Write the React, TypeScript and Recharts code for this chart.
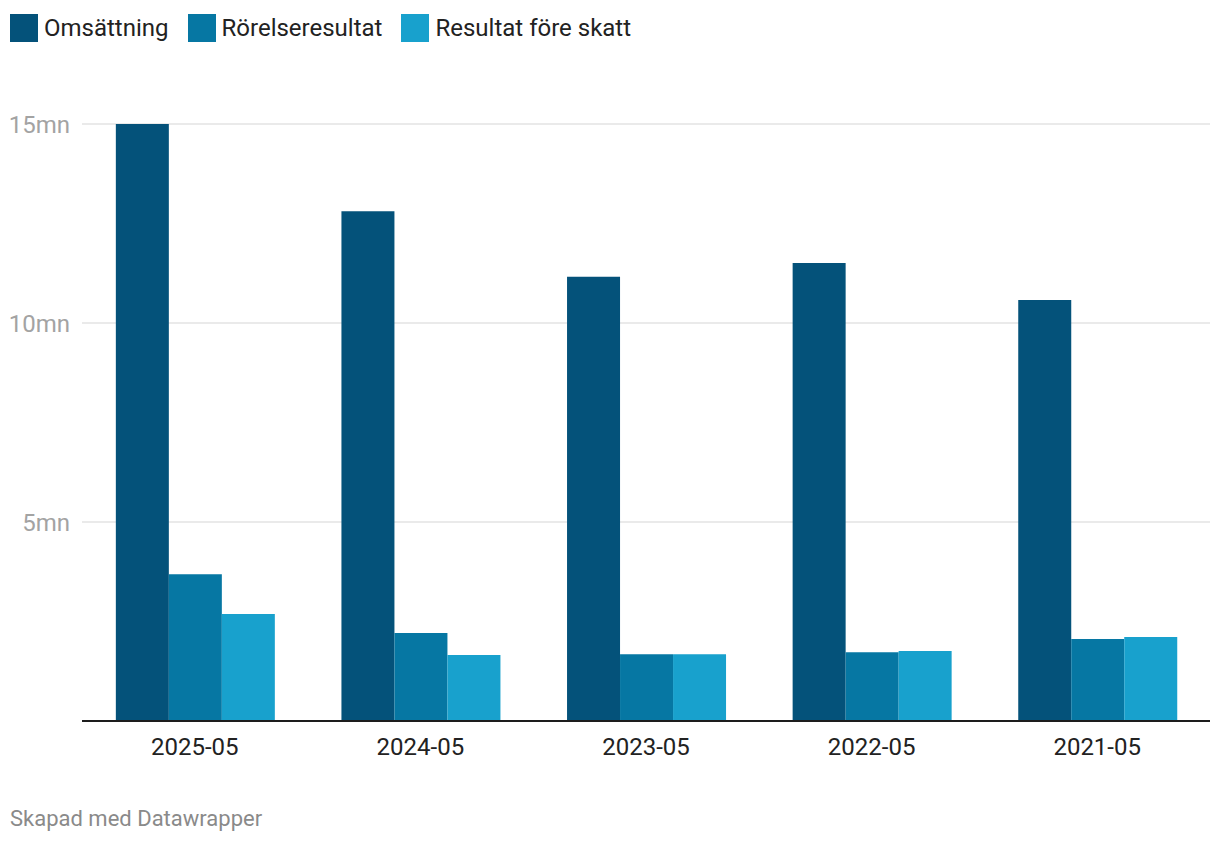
import { BarChart, Bar, XAxis, YAxis, CartesianGrid } from 'recharts';

const years = ['2025-05', '2024-05', '2023-05', '2022-05', '2021-05'];
const omsattning = [15.0, 12.81, 11.16, 11.51, 10.58];
const rorelseresultat = [3.69, 2.21, 1.68, 1.73, 2.06];
const resultatForeSkatt = [2.69, 1.66, 1.68, 1.76, 2.11];
const yTicks = [0, 5, 10, 15];

const series = [
  { key: 'oms', name: 'Omsättning', color: '#04527a' },
  { key: 'rr', name: 'Rörelseresultat', color: '#0677a3' },
  { key: 'rfs', name: 'Resultat före skatt', color: '#18a1cd' },
];

const data = years.map((y, i) => ({
  year: y,
  oms: omsattning[i],
  rr: rorelseresultat[i],
  rfs: resultatForeSkatt[i],
}));

const font = 'Roboto, "Noto Sans", sans-serif';

export default function App() {
  return (
    <div style={{ position: 'absolute', left: 0, top: 0, width: 1220, height: 844, fontFamily: font, background: '#fff' }}>
      <div style={{ position: 'absolute', left: 10, top: 14, display: 'flex', alignItems: 'center' }}>
        {series.map((s) => (
          <div key={s.key} style={{ display: 'flex', alignItems: 'center', marginRight: 19 }}>
            <span style={{ width: 28, height: 28, background: s.color, display: 'inline-block', marginRight: 6 }} />
            <span style={{ fontSize: 24, color: '#222' }}>{s.name}</span>
          </div>
        ))}
      </div>
      <div style={{ position: 'absolute', left: 0, top: 0 }}>
        <BarChart
          width={1220}
          height={844}
          data={data}
          margin={{ top: 124, right: 10, left: 0, bottom: 83 }}
          barCategoryGap="15%"
          barGap={0}
        >
          <CartesianGrid vertical={false} stroke="#e3e3e3" strokeWidth={1.5} />
          <XAxis
            dataKey="year"
            height={40}
            tickLine={false}
            axisLine={{ stroke: '#1d1d1d', strokeWidth: 2 }}
            tick={{ fill: '#222', fontSize: 24, fontFamily: font }}
            tickMargin={11}
          />
          <YAxis
            width={82}
            domain={[0, 15]}
            ticks={yTicks}
            tickLine={false}
            axisLine={false}
            tickMargin={6}
            tickFormatter={(v: number) => (v === 0 ? '' : `${v}mn`)}
            tick={{ fill: '#a3a3a3', fontSize: 24, fontFamily: font }}
          />
          {series.map((s) => (
            <Bar key={s.key} dataKey={s.key} name={s.name} fill={s.color} isAnimationActive={false} />
          ))}
        </BarChart>
      </div>
      <div style={{ position: 'absolute', left: 10, top: 806, fontSize: 22, color: '#8a8a8a' }}>
        Skapad med Datawrapper
      </div>
    </div>
  );
}
